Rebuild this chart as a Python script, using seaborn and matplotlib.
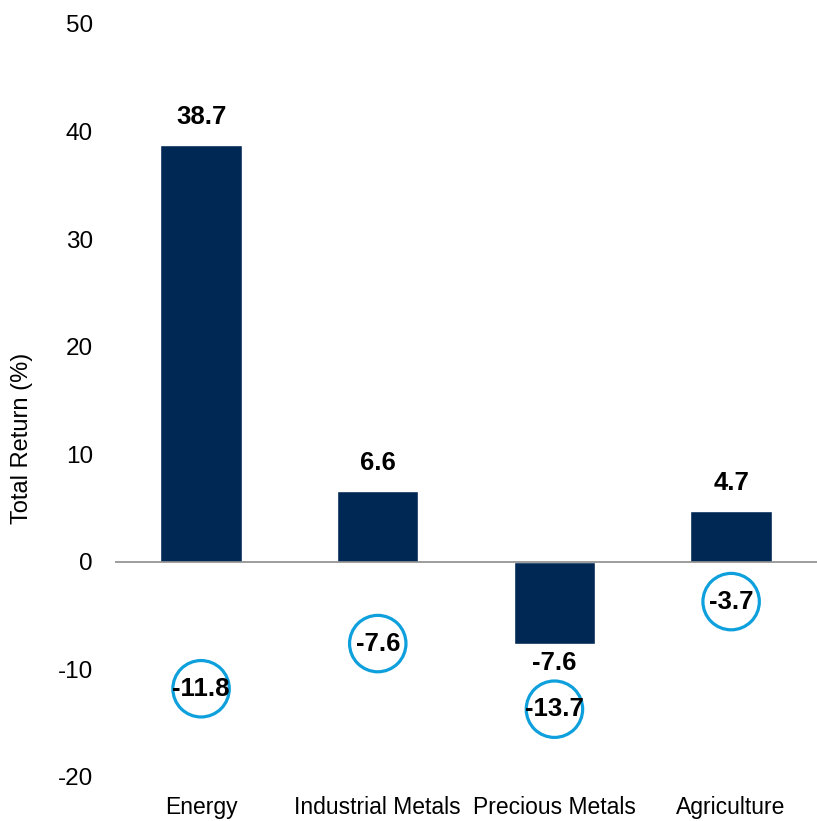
import numpy as np
import pandas as pd
import matplotlib.pyplot as plt
import seaborn as sns

categories = ["Energy", "Industrial Metals", "Precious Metals", "Agriculture"]
total_return = [38.7, 6.6, -7.6, 4.7]
circle_values = [-11.8, -7.6, -13.7, -3.7]

df = pd.DataFrame({"sector": categories, "ret": total_return})

sns.set_style("white")
plt.rcParams['font.family'] = ['Liberation Sans', 'DejaVu Sans']
plt.rcParams['axes.unicode_minus'] = False
plt.rcParams['text.color'] = 'black'
plt.rcParams['xtick.color'] = 'black'
plt.rcParams['ytick.color'] = 'black'
plt.rcParams['axes.labelcolor'] = 'black'

fig = plt.figure(figsize=(8.17, 8.21), dpi=100)
ax = fig.add_axes([0.141, 0.0536, 0.859, 0.9174])

sns.barplot(data=df, x="sector", y="ret", color="#002855", saturation=1,
            width=0.46, ax=ax)

# circled values
pos = np.arange(len(categories))
sns.scatterplot(x=pos, y=circle_values, s=1650, facecolors="none",
                edgecolor="#0EA0DC", linewidth=2.3, ax=ax, zorder=3)
for x, v in zip(pos, circle_values):
    ax.text(x, v, f"{v:.1f}", ha="center", va="center", fontsize=18.5,
            fontweight="bold", zorder=4)

# bar labels
for x, v in zip(pos, total_return):
    off = 2.6 if v > 0 else -1.8
    ax.text(x, v + off, f"{v:.1f}", ha="center", va="center", fontsize=18.5,
            fontweight="bold")

ax.axhline(0, color="#8c8c8c", linewidth=1.2, zorder=5)
ax.set_ylim(-20, 50)
ax.set_xlim(-0.486, 3.486)
ax.set_yticks(range(-20, 51, 10))
ax.set_xticks(pos)
ax.set_xticklabels(categories)
ax.tick_params(axis="y", labelsize=17.5, length=0, pad=16)
ax.tick_params(axis="x", labelsize=16.5, length=0, pad=14)
ax.set_xlabel("")
ax.set_ylabel("Total Return (%)", fontsize=17)
ax.yaxis.set_label_coords(-0.117, 0.449)
for s in ax.spines.values():
    s.set_visible(False)

plt.savefig("out.png", dpi=100)
